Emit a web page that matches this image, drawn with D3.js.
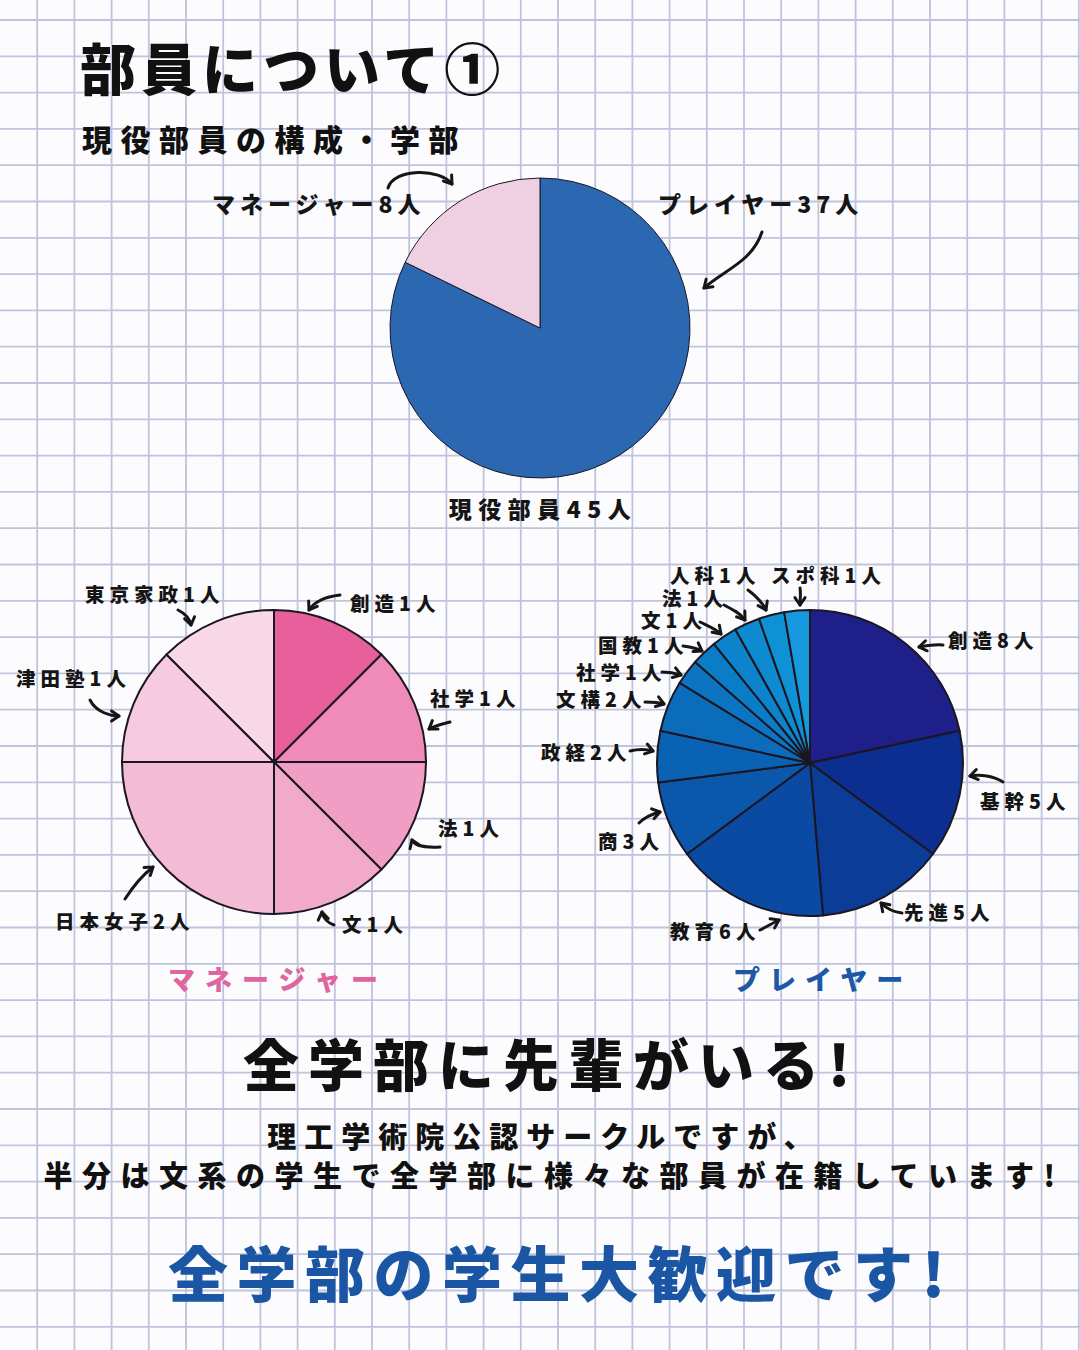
<!DOCTYPE html>
<html>
<head>
<meta charset="utf-8">
<script src="https://cdn.jsdelivr.net/npm/d3@7"></script>
<style>
  body { margin: 0; background: #fcfcfe; }
  svg text { font-family: "Noto Sans CJK JP", "Noto Sans", sans-serif; font-weight: 900; }
</style>
</head>
<body>
<div id="chart"></div>
<script>

// ---- data ----
const topCategories = ["プレイヤー", "マネージャー"];
const topValues = [37, 8];

const managerFaculties = ["創造", "社学", "法", "文", "日本女子", "津田塾", "東京家政"];
const managerCounts = [1, 1, 1, 1, 2, 1, 1];

const playerFaculties = ["創造", "基幹", "先進", "教育", "商", "政経", "文構", "社学", "国教", "文", "法", "人科", "スポ科"];
const playerCounts = [8, 5, 5, 6, 3, 2, 2, 1, 1, 1, 1, 1, 1];

// ---- styles / layout ----
const topColors = ["#2b68b1", "#efd0e3"];
const managerColors = ["#e8609b", "#ee8bb6", "#f09ec3", "#f2aaca", "#f4bbd5", "#f7cbdf", "#f9d9e7"];
const playerColors = ["#1f1f8a", "#0b2e90", "#0a3c98", "#0b4aa2", "#0a57ac", "#0a62b4", "#0a6cbb",
                      "#0b75c1", "#0b7cc6", "#0c83cb", "#0d8ad0", "#0f91d6", "#1699dd"];

// label anchor points (left x, baseline y) for each slice
const topLabelPos = [[658, 213], [212, 213]];
const managerLabelPos = [[350, 611], [430, 706], [438, 836], [342, 932], [55, 929], [16, 686], [85, 602]];
const playerLabelPos = [[948, 648], [980, 809], [904, 920], [670, 939], [598, 849], [541, 760], [556, 707],
                        [576, 680], [598, 653], [641, 628], [662, 606], [670, 583], [771, 583]];

// hand drawn arrows (start, controls..., head)
const topArrows = [
  [[762, 232], [752, 262], [724, 270], [704, 288]],
  [[388, 188], [394, 168], [440, 168], [452, 184]]
];
const managerArrows = [
  [[340, 595], [324, 597], [314, 602], [309, 610]],
  [[450, 722], [442, 724], [432, 727], [429, 729]],
  [[440, 847], [424, 848], [414, 845], [412, 840]],
  [[334, 925], [328, 923], [323, 918], [322, 912]],
  [[125, 899], [134, 885], [144, 874], [153, 867]],
  [[90, 700], [96, 712], [110, 716], [119, 716]],
  [[178, 610], [186, 614], [190, 620], [191, 625]]
];
const playerArrows = [
  [[943, 645], [934, 644], [925, 646], [919, 647]],
  [[1003, 782], [994, 776], [980, 774], [970, 776]],
  [[902, 913], [893, 912], [886, 908], [881, 903]],
  [[760, 930], [766, 927], [773, 923], [779, 920]],
  [[639, 823], [644, 818], [652, 814], [660, 812]],
  [[630, 751], [638, 749], [646, 749], [653, 751]],
  [[645, 702], [652, 702], [658, 702], [664, 704]],
  [[662, 672], [668, 672], [675, 673], [681, 675]],
  [[683, 646], [690, 647], [697, 648], [702, 651]],
  [[700, 622], [708, 626], [716, 629], [721, 634]],
  [[724, 605], [732, 609], [740, 613], [745, 620]],
  [[748, 590], [756, 596], [762, 602], [766, 610]],
  [[800, 588], [801, 594], [800, 600], [800, 605]]
];

const W = 1080, H = 1350;

const svg = d3.select("#chart").append("svg")
    .attr("width", W)
    .attr("height", H);

svg.append("rect").attr("width", W).attr("height", H).attr("fill", "#fcfcfe");

// graph paper grid
const grid = svg.append("g").attr("stroke", "#bfc3db").attr("stroke-width", 1.8);
d3.range(1, 30).forEach(k => {
    grid.append("line").attr("x1", k * 37.2).attr("x2", k * 37.2).attr("y1", 0).attr("y2", H);
});
d3.range(0, 37).forEach(k => {
    grid.append("line").attr("y1", 20 + k * 36.3).attr("y2", 20 + k * 36.3).attr("x1", 0).attr("x2", W);
});

// titles
svg.append("text").attr("x", 80).attr("y", 90)
    .attr("font-size", 56).style("letter-spacing", "5px").attr("fill", "#111")
    .text("部員について①");
svg.append("text").attr("x", 82).attr("y", 151)
    .attr("font-size", 30).style("letter-spacing", "8.5px").attr("fill", "#111")
    .text("現役部員の構成・学部");

// generic pie drawer
function drawPie(cx, cy, r, names, values, colors, labelPos, arrows, strokeW, fontSize, spacing) {
    let g = svg.append("g").attr("transform", "translate(" + cx + "," + cy + ")");
    let data = names.map((n, i) => ({name: n, value: values[i]}));
    let pie = d3.pie().sort(null).value(d => d.value);
    let arc = d3.arc().innerRadius(0).outerRadius(r);

    g.selectAll("path.slice")
        .data(pie(data))
        .enter()
        .append("path")
        .attr("class", "slice")
        .attr("d", arc)
        .attr("fill", (d, i) => colors[i])
        .attr("stroke", "#1c1622")
        .attr("stroke-width", strokeW)
        .attr("stroke-linejoin", "round");

    svg.selectAll(null)
        .data(data)
        .enter()
        .append("text")
        .attr("x", (d, i) => labelPos[i][0])
        .attr("y", (d, i) => labelPos[i][1])
        .attr("font-size", fontSize)
        .style("letter-spacing", spacing + "px")
        .attr("fill", "#151515")
        .text(d => d.name + d.value + "人");

    arrows.forEach(a => drawArrow(a));
}

function drawArrow(p) {
    let path = d3.path();
    path.moveTo(p[0][0], p[0][1]);
    path.bezierCurveTo(p[1][0], p[1][1], p[2][0], p[2][1], p[3][0], p[3][1]);
    svg.append("path").attr("d", path.toString())
        .attr("fill", "none").attr("stroke", "#161616")
        .attr("stroke-width", 3).attr("stroke-linecap", "round");
    // arrow head
    let ang = Math.atan2(p[3][1] - p[2][1], p[3][0] - p[2][0]);
    let len = 9;
    let head = d3.path();
    [-0.6, 0.6].forEach(o => {
        head.moveTo(p[3][0], p[3][1]);
        head.lineTo(p[3][0] - len * Math.cos(ang + o), p[3][1] - len * Math.sin(ang + o));
    });
    svg.append("path").attr("d", head.toString())
        .attr("fill", "none").attr("stroke", "#161616")
        .attr("stroke-width", 3).attr("stroke-linecap", "round");
}

// overall members pie
drawPie(540, 328, 150, topCategories, topValues, topColors, topLabelPos, topArrows, 1, 23, 5);
svg.append("text").attr("x", 543).attr("y", 518)
    .attr("text-anchor", "middle")
    .attr("font-size", 23).style("letter-spacing", "6.5px").attr("fill", "#151515")
    .text("現役部員" + d3.sum(topValues) + "人");

// manager / player faculty pies
drawPie(274, 762, 152, managerFaculties, managerCounts, managerColors, managerLabelPos, managerArrows, 2, 19.5, 5);
drawPie(810, 763, 153, playerFaculties, playerCounts, playerColors, playerLabelPos, playerArrows, 2, 19.5, 5);

svg.append("text").attr("x", 168).attr("y", 990)
    .attr("font-size", 27).style("letter-spacing", "10px").attr("fill", "#e0649e")
    .text("マネージャー");
svg.append("text").attr("x", 733).attr("y", 990)
    .attr("font-size", 27).style("letter-spacing", "9px").attr("fill", "#1d58a6")
    .text("プレイヤー");

// bottom messages
svg.append("text").attr("x", 551).attr("y", 1086).attr("text-anchor", "middle")
    .attr("font-size", 56).style("letter-spacing", "9px").attr("fill", "#111")
    .text("全学部に先輩がいる!");
svg.append("text").attr("x", 544).attr("y", 1148).attr("text-anchor", "middle")
    .attr("font-size", 29).style("letter-spacing", "8px").attr("fill", "#111")
    .text("理工学術院公認サークルですが、");
svg.append("text").attr("x", 554).attr("y", 1187).attr("text-anchor", "middle")
    .attr("font-size", 29).style("letter-spacing", "9.5px").attr("fill", "#111")
    .text("半分は文系の学生で全学部に様々な部員が在籍しています!");
svg.append("text").attr("x", 561).attr("y", 1297).attr("text-anchor", "middle")
    .attr("font-size", 60).style("letter-spacing", "8.5px").attr("fill", "#1a56a4")
    .text("全学部の学生大歓迎です!");

</script>
</body>
</html>
